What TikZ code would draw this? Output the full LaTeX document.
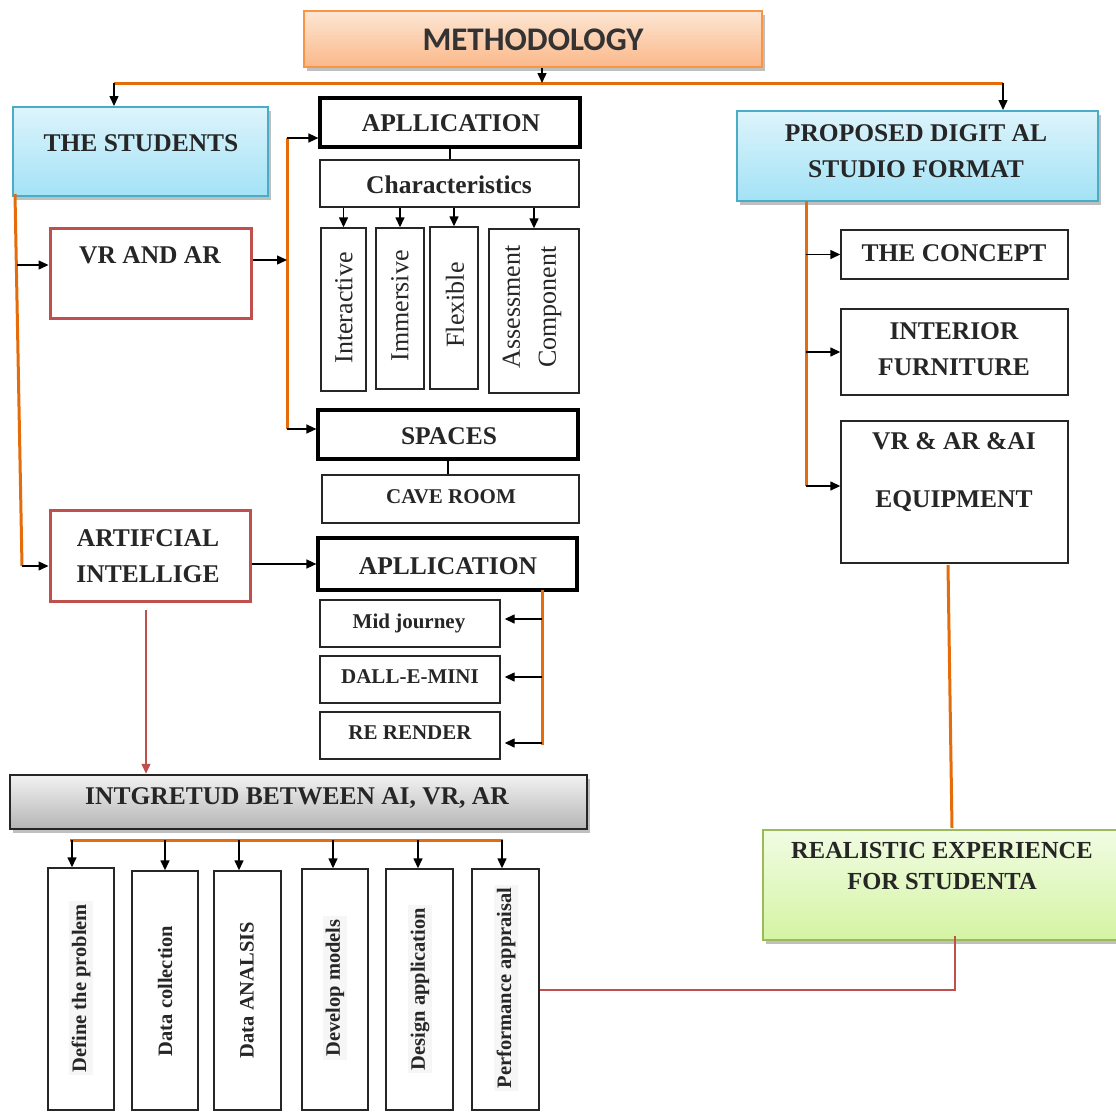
\documentclass[tikz,border=0pt]{standalone}
\usepackage{fontspec}
\setmainfont{Liberation Serif}
\newfontfamily\calib{Carlito}
\usetikzlibrary{arrows.meta,shadows}
\definecolor{orL}{HTML}{E46C0A}
\definecolor{redB}{HTML}{C0504D}
\definecolor{cyB}{HTML}{4BACC6}
\definecolor{cyT}{HTML}{DDF4FC}
\definecolor{cyD}{HTML}{A3E2F6}
\definecolor{orB}{HTML}{F79646}
\definecolor{orT}{HTML}{FDE6D4}
\definecolor{orD}{HTML}{FAB889}
\definecolor{grB}{HTML}{9BBB59}
\definecolor{grT}{HTML}{F1FCE3}
\definecolor{grD}{HTML}{D4F4A3}
\definecolor{gyT}{HTML}{F2F2F2}
\definecolor{gyD}{HTML}{B5B5B5}
\definecolor{txt}{HTML}{262626}
\newcommand\mkbox[6]{\node[#2, minimum width={(#5-#3)*1pt}, minimum height={(#6-#4)*1pt}] (#1) at ({(#3+#5)/2},{(#4+#6)/2}) {};}
\tikzset{
 olin/.style={draw=orL, line width=3pt},
 arr/.style={draw=black, line width=1.4pt, -{Triangle[length=10pt,width=9pt]}},
 redarr/.style={draw=redB, line width=1.4pt, -{Triangle[length=10pt,width=9pt]}},
 redline/.style={draw=redB, line width=1.4pt},
 thinbox/.style={draw=black!85, line width=1.4pt, inner sep=0pt, fill=white},
 thickbox/.style={draw=black, line width=3.2pt, inner sep=0pt, fill=white},
 redbox/.style={draw=redB, line width=3pt, inner sep=0pt, fill=white},
 shad/.style={drop shadow={shadow xshift=3pt, shadow yshift=-4pt, fill=black, opacity=0.25}},
 cybox/.style={draw=cyB, line width=2pt, inner sep=0pt, top color=cyT, bottom color=cyD, shad},
 orbox/.style={draw=orB, line width=2pt, inner sep=0pt, top color=orT, bottom color=orD, shad},
 grbox/.style={draw=grB, line width=2pt, inner sep=0pt, top color=grT, bottom color=grD, shad},
 gybox/.style={draw=black!85, line width=2.5pt, inner sep=0pt, top color=gyT, bottom color=gyD, shad},
 lbl/.style={font=\bfseries\fontsize{25.5}{36}\selectfont, text=txt, align=center, inner sep=0pt},
 slbl/.style={font=\bfseries\fontsize{21}{26}\selectfont, text=txt, align=center, inner sep=0pt},
 rlbl/.style={font=\fontsize{26}{36}\selectfont, text=txt, align=center, inner sep=0pt, rotate=90},
 blbl/.style={font=\bfseries\fontsize{20.5}{24}\selectfont, text=txt, align=center, inner sep=0pt, rotate=90},
 hl/.style={fill=gray!7, inner sep=3pt},
}
\begin{document}
\begin{tikzpicture}[x=1pt,y=-1pt]
\useasboundingbox (0,0) rectangle (1116,1111);
% boxes
\mkbox{meth}{orbox}{304}{11}{762}{67}
\mkbox{stud}{cybox}{13}{107}{268}{196}
\mkbox{prop}{cybox}{737}{111}{1098}{201}
\mkbox{app1}{thickbox}{320}{98}{580}{147}
\mkbox{char}{thinbox}{320}{160}{579}{207}
\mkbox{inter}{thinbox}{321}{228}{366}{391}
\mkbox{imm}{thinbox}{376}{228}{424}{389}
\mkbox{flex}{thinbox}{430}{227}{478}{389}
\mkbox{assess}{thinbox}{489}{229}{579}{393}
\mkbox{spaces}{thickbox}{318}{410}{578}{459}
\mkbox{cave}{thinbox}{322}{475}{579}{523}
\mkbox{vrar}{redbox}{50}{228}{251}{318}
\mkbox{ai}{redbox}{50}{510}{250}{601}
\mkbox{app2}{thickbox}{318}{538}{577}{590}
\mkbox{mid}{thinbox}{320}{600}{500}{647}
\mkbox{dall}{thinbox}{320}{656}{500}{703}
\mkbox{rer}{thinbox}{320}{712}{500}{759}
\mkbox{integ}{gybox}{10}{775}{587}{829}
\mkbox{b1}{thinbox}{48}{868}{114}{1110}
\mkbox{b2}{thinbox}{132}{871}{198}{1110}
\mkbox{b3}{thinbox}{214}{871}{281}{1110}
\mkbox{b4}{thinbox}{302}{869}{368}{1110}
\mkbox{b5}{thinbox}{386}{869}{453}{1110}
\mkbox{b6}{thinbox}{472}{869}{539}{1110}
\mkbox{concept}{thinbox}{841}{230}{1068}{279}
\mkbox{interior}{thinbox}{841}{309}{1068}{395}
\mkbox{equip}{thinbox}{841}{421}{1068}{563}
\mkbox{real}{grbox}{763}{830}{1122}{940}
% labels
\node[font=\calib\bfseries\fontsize{33}{36}\selectfont, text=black!80, inner sep=0pt] (tmeth) at (533,40) {METHODOLOGY};
\node[lbl] (tstud) at (141,143) {THE STUDENTS};
\node[lbl] (tprop) at (916,151) {PROPOSED DIGIT AL\\STUDIO FORMAT};
\node[lbl] (tapp1) at (451,123) {APLLICATION};
\node[lbl] (tchar) at (449,185) {Characteristics};
\node[rlbl] (tinter) at (344,308) {Interactive};
\node[rlbl] (timm) at (400,306) {Immersive};
\node[rlbl] (tflex) at (455,305) {Flexible};
\node[rlbl] (tassess) at (532,307) {Assessment\\Component};
\node[lbl] (tspaces) at (449,436) {SPACES};
\node[slbl] (tcave) at (451,497) {CAVE ROOM};
\node[lbl] (tvrar) at (150,255) {VR AND AR};
\node[lbl] (tai) at (148,556) {ARTIFCIAL\\INTELLIGE};
\node[lbl] (tapp2) at (448,566) {APLLICATION};
\node[slbl] (tmid) at (409,623) {Mid journey};
\node[slbl] (tdall) at (410,677) {DALL-E-MINI};
\node[slbl] (trer) at (410,733) {RE RENDER};
\node[lbl] (tinteg) at (297,798) {INTGRETUD BETWEEN AI, VR, AR};
\node[blbl,hl] (tb1) at (81,988) {Define the problem};
\node[blbl] (tb2) at (165,991) {Data collection};
\node[blbl] (tb3) at (247,990) {Data ANALSIS};
\node[blbl,hl] (tb4) at (335,988) {Develop models};
\node[blbl,hl] (tb5) at (420,989) {Design application};
\node[blbl,hl] (tb6) at (506,988) {Performance appraisal};
\node[lbl] (tconcept) at (954,253) {THE CONCEPT};
\node[lbl] (tinterior) at (954,349) {INTERIOR\\FURNITURE};
\node[lbl] (tequip) at (954,472) {VR \& AR \&AI\\[22pt]EQUIPMENT};
\node[font=\bfseries\fontsize{24.5}{31}\selectfont, text=txt, align=center, inner sep=0pt] (treal) at (942,866) {REALISTIC EXPERIENCE\\FOR STUDENTA};
% top connectors
\coordinate (tL) at (114,83);
\coordinate (tR) at (1003,83);
\coordinate (tM) at (542,83);
\draw[olin] (tL) -- (tR);
\draw[arr] (meth.south -| tM) -- (tM);
\draw[arr] (tL) -- (tL |- stud.north);
\draw[arr] (tR) -- (tR |- prop.north);
% left spine
\coordinate (ls1) at (15,194);
\coordinate (ls2) at (22,566);
\coordinate (lv) at (17,265);
\draw[olin] (ls1) -- (ls2);
\draw[arr] (lv) -- (vrar.west |- lv);
\draw[arr] (ls2) -- (ai.west |- ls2);
% middle spine
\coordinate (ms1) at (287,138);
\coordinate (ms2) at (287,429);
\coordinate (mv) at (287,260);
\draw[olin] (ms1) -- (ms2);
\draw[arr] (ms1) -- (app1.west |- ms1);
\draw[arr] (ms2) -- (spaces.west |- ms2);
\draw[arr] (vrar.east |- mv) -- (mv);
\draw[line width=1.4pt] (app1.south) -- (app1.south |- char.north);
\foreach \b in {inter,imm,flex,assess} \draw[arr] (char.south -| \b.north) -- (\b.north);
\draw[line width=1.4pt] (spaces.south) -- (spaces.south |- cave.north);
% AI
\draw[arr] (ai.east |- app2.west) -- (app2.west);
\coordinate (as1) at (542,590);
\coordinate (as2) at (542,745);
\coordinate (a1) at (542,619);
\coordinate (a2) at (542,677);
\coordinate (a3) at (542,743);
\draw[olin] (as1) -- (as2);
\draw[arr, shorten >=4pt] (a1) -- (mid.east |- a1);
\draw[arr, shorten >=4pt] (a2) -- (dall.east |- a2);
\draw[arr, shorten >=4pt] (a3) -- (rer.east |- a3);
\coordinate (ra) at (146,610);
\draw[redarr] (ra) -- (ra |- integ.north);
% integration fan
\draw[olin] (70,840) -- (503,840);
\foreach \x/\b in {72/b1,165/b2,239/b3,333/b4,418/b5,502/b6} {
  \coordinate (bt) at (\x,840);
  \draw[arr] (bt) -- (bt |- \b.north);
}
% right spine
\coordinate (rs1) at (806,201);
\coordinate (rs2) at (806,486);
\draw[olin] (rs1) -- (rs2);
\draw[arr] (rs1 |- concept.west) -- (concept.west);
\draw[arr] (rs1 |- interior.west) -- (interior.west);
\draw[arr] (rs2) -- (equip.west |- rs2);
\coordinate (eqA) at (948,565);
\coordinate (eqB) at (952,828);
\draw[olin] (eqA) -- (eqB);
% red return line
\coordinate (rl1) at (542,990);
\coordinate (rl2) at (955,990);
\coordinate (rl3) at (955,936);
\draw[redline] (b6.east |- rl1) -- (rl2) -- (rl3);
\end{tikzpicture}
\end{document}
